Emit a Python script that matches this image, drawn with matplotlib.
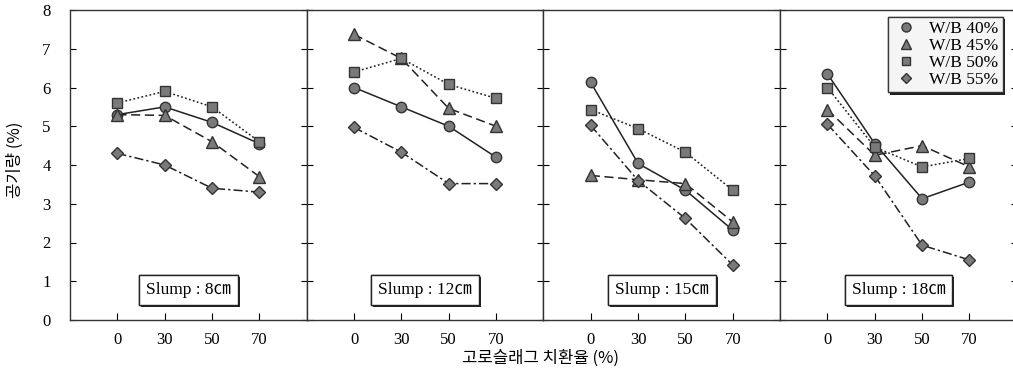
import matplotlib
matplotlib.use("Agg")
import matplotlib.pyplot as plt
import matplotlib.patheffects as pe

# Slag replacement ratio (%) on the x axis
replacement = ["0", "30", "50", "70"]
slumps = ["8", "12", "15", "18"]
series_labels = ["W/B 40%", "W/B 45%", "W/B 50%", "W/B 55%"]

# Air content (%) per slump panel, one list per W/B ratio
wb40 = [[5.3, 5.5, 5.1, 4.55], [6.0, 5.5, 5.0, 4.2], [6.13, 4.04, 3.35, 2.32], [6.35, 4.55, 3.13, 3.56]]
wb45 = [[5.3, 5.28, 4.6, 3.7], [7.37, 6.75, 5.46, 5.0], [3.73, 3.62, 3.52, 2.53], [5.43, 4.25, 4.5, 3.95]]
wb50 = [[5.6, 5.9, 5.5, 4.6], [6.4, 6.75, 6.08, 5.72], [5.43, 4.94, 4.33, 3.35], [6.0, 4.46, 3.95, 4.17]]
wb55 = [[4.3, 4.0, 3.4, 3.3], [4.97, 4.33, 3.52, 3.52], [5.02, 3.6, 2.62, 1.42], [5.05, 3.72, 1.93, 1.55]]

serif = ["Liberation Serif", "Noto Sans CJK KR"]
kor = ["Noto Sans CJK KR", "DejaVu Sans"]

styles = [
    dict(marker="o", linestyle="-", ms=7.5),
    dict(marker="^", linestyle=(0, (6, 3)), ms=8.5),
    dict(marker="s", linestyle=(0, (1.2, 1.5)), ms=7),
    dict(marker="D", linestyle=(0, (6, 2, 1.5, 2)), ms=6.5),
]
data = [wb40, wb45, wb50, wb55]

W, H = 1013, 374
fig = plt.figure(figsize=(W / 100, H / 100), dpi=100)

left_px = 70
panel_w = 236.7
top_px, bot_px = 10, 320

for p in range(4):
    ax = fig.add_axes([(left_px + p * panel_w) / W, (H - bot_px) / H,
                       panel_w / W, (bot_px - top_px) / H])
    x = list(range(len(replacement)))
    for s, st in enumerate(styles):
        ax.plot(x, data[s][p], color="#222222", lw=1.1,
                marker=st["marker"], ms=st["ms"], linestyle=st["linestyle"],
                markerfacecolor="#7a7a7a", markeredgecolor="#333333",
                markeredgewidth=1.0, label=series_labels[s])
    ax.set_xlim(-1, 4)
    ax.set_ylim(0, 8)
    ax.set_xticks(x)
    ax.set_xticklabels(replacement, fontfamily=serif, fontsize=12)
    ax.set_yticks(range(0, 9))
    ax.tick_params(axis="x", direction="in", length=5, width=0.8, pad=9)
    ax.tick_params(axis="y", direction="in", length=4, width=0.8, left=True, right=True)
    if p == 0:
        ax.set_yticklabels([str(v) for v in range(9)], fontfamily=serif, fontsize=12)
        ax.tick_params(axis="y", pad=14)
    else:
        ax.set_yticklabels([])
    for sp in ax.spines.values():
        sp.set_color("#333333")
        sp.set_linewidth(1.0)
    t = ax.text(1.5, 0.77, f"Slump : {slumps[p]}㎝", ha="center", va="center",
                fontsize=12.5, fontfamily=serif,
                bbox=dict(boxstyle="square,pad=0.4", fc="white", ec="#222222", lw=1.0))
    t.get_bbox_patch().set_path_effects([
        pe.withSimplePatchShadow(offset=(1.5, -1.5), shadow_rgbFace="#222222", alpha=1.0),
        pe.Normal()])
    if p == 3:
        leg = ax.legend(handles=[plt.Line2D([], [], linestyle="none", marker=st["marker"],
                                            ms=st["ms"] - 1, markerfacecolor="#7a7a7a",
                                            markeredgecolor="#333333") for st in styles],
                        labels=series_labels, loc="upper right",
                        bbox_to_anchor=(0.955, 0.99), prop=dict(family=serif, size=12.5),
                        frameon=True, fancybox=False, handletextpad=0.6,
                        borderpad=0.25, labelspacing=0.05, handlelength=1.5,
                        borderaxespad=0.2)
        leg.get_frame().set_edgecolor("#222222")
        leg.get_frame().set_linewidth(1.0)
        leg.get_frame().set_path_effects([
            pe.withSimplePatchShadow(offset=(1.5, -1.5), shadow_rgbFace="#222222", alpha=1.0),
            pe.Normal()])

fig.text(15 / W, 1 - 160 / H, "공기량 (%)", rotation=90, ha="center", va="center",
         fontfamily=kor, fontsize=12)
fig.text(540 / W, 1 - 358 / H, "고로슬래그 치환율 (%)", ha="center", va="center",
         fontfamily=kor, fontsize=12)

fig.savefig("out.png", dpi=100)
